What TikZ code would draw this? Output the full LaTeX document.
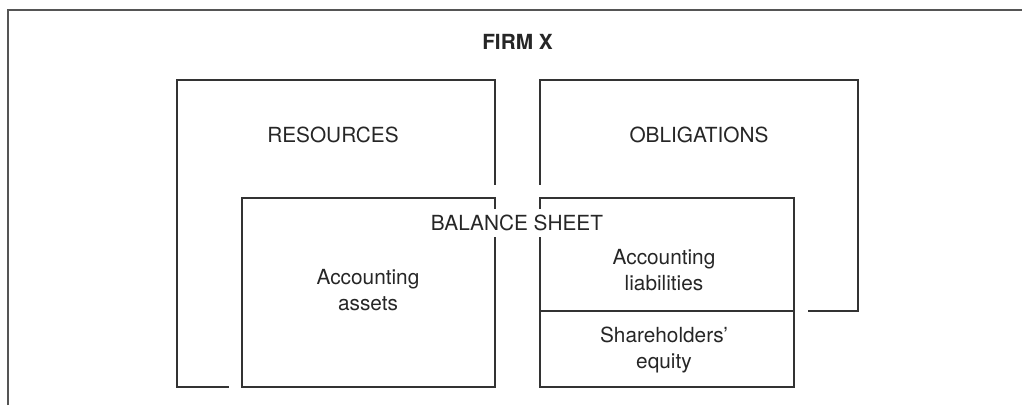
\documentclass[tikz,border=0pt]{standalone}
\usepackage{fontspec}
\setmainfont{TeX Gyre Heros}
\usepackage{tikz}
\usepackage{xcolor}
\definecolor{framegray}{HTML}{555555}
\definecolor{linegray}{HTML}{333333}
\tikzstyle{frame} = [draw=framegray, line width=2]
\tikzstyle{box} = [rectangle, draw=linegray, line width=1.3, inner sep=0]
\tikzstyle{sheet} = [rectangle, draw=linegray, line width=1.3, inner sep=0, preaction={draw=white, line width=27}]
\tikzstyle{txt} = [font=\fontsize{20.8}{26}\selectfont, text=black!85, align=center, inner sep=0]

\begin{document}
\begin{tikzpicture}[x=1pt, y=1pt]
    \useasboundingbox (0,0) rectangle (1022,405);

    % outer frame, only top and left side are visible
    \coordinate (fbl) at (8,0);
    \coordinate (ftl) at (8,394.5);
    \coordinate (ftr) at (1022,394.5);
    \draw [frame] (fbl) -- (ftl) -- (ftr);

    \node (firm) [txt, font=\fontsize{20.8}{26}\selectfont\bfseries] at (517.5,363) {FIRM X};

    % the two big boxes
    \node (resources) [box, minimum width=318, minimum height=307] at (336,171.5) {};
    \node (obligations) [box, minimum width=318, minimum height=231] at (699,209.5) {};

    % balance sheet, drawn on top with a white margin
    \node (assets) [sheet, minimum width=253, minimum height=189] at (368.5,112.5) {};
    \node (claims) [sheet, minimum width=254, minimum height=189] at (667,112.5) {};
    \coordinate (divl) at (540,94);
    \coordinate (divr) at (794,94);
    \draw [linegray, line width=1.3] (divl) -- (divr);

    \node (restext) [txt] at (333,270) {RESOURCES};
    \node (obltext) [txt] at (699,270) {OBLIGATIONS};
    \node (bstext) [txt, fill=white, inner xsep=0, inner ysep=6] at (517,182) {BALANCE SHEET};
    \node (assettext) [txt] at (368,115) {Accounting\\assets};
    \node (liabtext) [txt] at (664,135) {Accounting\\liabilities};
    \node (eqtext) [txt] at (664,55) {Shareholders'\\equity};
  \end{tikzpicture}
\end{document}
